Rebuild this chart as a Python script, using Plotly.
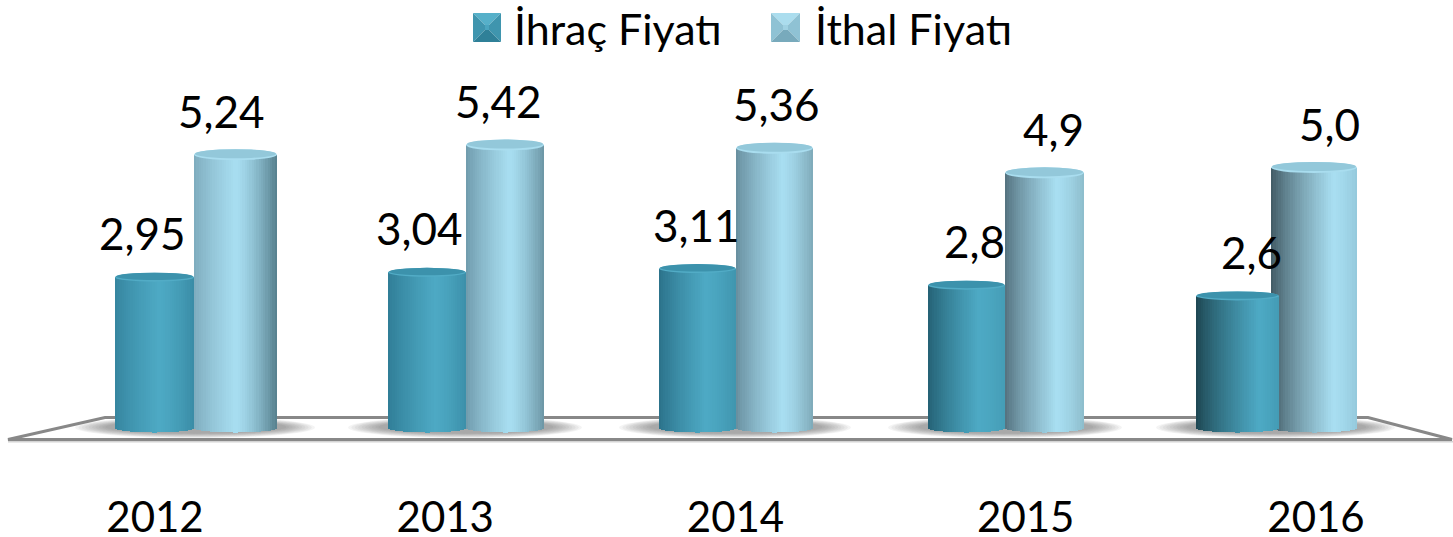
import math
import plotly.graph_objects as go

# ---- data ----
years = [2012, 2013, 2014, 2015, 2016]
year_labels = ["2012", "2013", "2014", "2015", "2016"]
ihrac_name = "İhraç Fiyatı"
ithal_name = "İthal Fiyatı"
ihrac_values = [2.95, 3.04, 3.11, 2.8, 2.6]
ithal_values = [5.24, 5.42, 5.36, 4.9, 5.0]
ihrac_labels = ["2,95", "3,04", "3,11", "2,8", "2,6"]
ithal_labels = ["5,24", "5,42", "5,36", "4,9", "5,0"]

# ---- layout / style ----
W, H = 1453, 537
PLOT_BOTTOM = 489
PX_PER_YEAR = 290.25
YEAR0_PX = 155
PX_PER_UNIT = 53.5
ZERO_PX = 435
FLOOR_PX = 428
FONT = "Lato"
FS = 44
N = 36


def X(px):
    return years[0] + (px - YEAR0_PX) / PX_PER_YEAR


def Y(py):
    return (ZERO_PX - py) / PX_PER_UNIT


def hexrgb(c):
    return tuple(int(c[i:i + 2], 16) for i in (1, 3, 5))


def mix(a, b, t):
    a, b = hexrgb(a), hexrgb(b)
    return "rgb(%d,%d,%d)" % tuple(round(a[i] + (b[i] - a[i]) * t) for i in range(3))


# bar extents on the perspective floor, pixels
ihrac_edges = [(115, 194), (388, 466), (659, 736), (928, 1005), (1196, 1279)]
ithal_edges = [(194, 277), (466, 544), (736, 813), (1005, 1084), (1271, 1357)]
ihrac_shade = [("#35849E", .55, "#3A8CA6"), ("#2F7C95", .6, "#3B8FA9"), ("#2A7088", .6, "#3F95AE"),
               ("#235F72", .65, "#459DB6"), ("#1C444F", .75, "#439BB4")]
ithal_shade = [("#7DAABC", .5, "#567F8D"), ("#6E99AA", .55, "#6B95A4"), ("#668C9C", .6, "#7EA9B8"),
               ("#526F7C", .65, "#8DBCCB"), ("#3F5761", .72, "#94C9DC")]
ihrac_light, ithal_light = "#4DA9C4", "#A8DEF1"
ihrac_cap, ithal_cap = "#3C92AC", "#93C8DA"
ihrac_rim, ithal_rim = "#52ACC6", "#A9DDEF"
ihrac_dx = [-12.5, -8, -1.5, 7.5, 13.5]
ithal_dx = [-14.5, -7, 1.5, 8.5, 15]
BOTTOM_DEPTH = 4.5
LABEL_UP = 44


def shade(stop, light, t):
    left, pos, right = stop
    if t < pos:
        return mix(left, light, (t / pos) ** 0.8)
    return mix(light, right, ((t - pos) / (1 - pos)) ** 1.4)


fig = go.Figure()


def cylinder(values, edges, shades, light):
    for k in range(N):
        t0, t1 = k / N, (k + 1) / N
        tm = (t0 + t1) / 2
        u = 2 * tm - 1
        base = Y(FLOOR_PX + BOTTOM_DEPTH * math.sqrt(max(0, 1 - u * u)))
        offs, wids, cols = [], [], []
        for i, (a, b) in enumerate(edges):
            centre = YEAR0_PX + i * PX_PER_YEAR
            offs.append((a + (b - a) * t0 - centre) / PX_PER_YEAR)
            wids.append(((b - a) * (t1 - t0) + (0.6 if k < N - 1 else 0)) / PX_PER_YEAR)
            cols.append(shade(shades[i], light, tm))
        fig.add_trace(go.Bar(
            x=years, y=[v - base for v in values], base=base, offset=offs, width=wids,
            marker=dict(color=cols, line=dict(width=0)), showlegend=False, hoverinfo="skip"))


cylinder(ithal_values, ithal_edges, ithal_shade, ithal_light)
cylinder(ihrac_values, ihrac_edges, ihrac_shade, ihrac_light)

for nm in (ihrac_name, ithal_name):
    fig.add_trace(go.Bar(x=[None], y=[None], name=nm, marker=dict(color="rgba(0,0,0,0)", line=dict(width=0))))

shapes = []
# floor
floor = "M %f,%f L %f,%f L %f,%f L %f,%f L %f,%f Z" % (
    X(8), Y(439.5), X(105), Y(417.5), X(1368), Y(417.5), X(1452), Y(439.5), X(8), Y(439.5))
shapes.append(dict(type="path", path=floor, xref="x", yref="y", line=dict(color="#888888", width=3),
                   fillcolor="white", layer="below"))
shapes.append(dict(type="line", xref="x", yref="y", x0=X(8), x1=X(1453), y0=Y(441.8), y1=Y(441.8),
                   line=dict(color="#D4D4D4", width=1.5), layer="below"))
# soft shadows under each pair
STEPS = 10
for (a, _), (_, b) in zip(ihrac_edges, ithal_edges):
    for j in range(STEPS):
        g = (1 - j / STEPS)
        shapes.append(dict(type="circle", xref="x", yref="y",
                           x0=X(a - 6 - 34 * g), x1=X(b + 6 + 32 * g),
                           y0=Y(427 + 6 + 5 * g), y1=Y(427 - 6 - 4 * g),
                           fillcolor="rgba(90,90,90,0.065)", line=dict(width=0), layer="below"))


# cylinder tops
def caps(values, edges, cap, rim, semi):
    for v, (a, b) in zip(values, edges):
        dy = semi / PX_PER_UNIT
        shapes.append(dict(type="circle", xref="x", yref="y", x0=X(a), x1=X(b), y0=v - dy, y1=v + dy,
                           fillcolor=rim, line=dict(width=0), layer="above"))
        shapes.append(dict(type="circle", xref="x", yref="y", x0=X(a + 1), x1=X(b - 1), y0=v - dy * 0.65, y1=v + dy,
                           fillcolor=cap, line=dict(width=0), layer="above"))


caps(ithal_values, ithal_edges, ithal_cap, ithal_rim, 5.5)
caps(ihrac_values, ihrac_edges, ihrac_cap, ihrac_rim, 4.5)


# legend swatches: bevelled squares
def swatch(x0, x1, y0, y1, top, left, right, bottom, mid):
    d = 12
    cx0, cx1, cy0, cy1 = x0 + d, x1 - d, y0 + d, y1 - d
    for pts, col in (([(x0, y0), (x1, y0), (cx1, cy0), (cx0, cy0)], top),
                     ([(x0, y0), (cx0, cy0), (cx0, cy1), (x0, y1)], left),
                     ([(x1, y0), (cx1, cy0), (cx1, cy1), (x1, y1)], right),
                     ([(x0, y1), (cx0, cy1), (cx1, cy1), (x1, y1)], bottom),
                     ([(cx0, cy0), (cx1, cy0), (cx1, cy1), (cx0, cy1)], mid)):
        p = "M " + " L ".join("%f,%f" % (X(a), Y(b)) for a, b in pts) + " Z"
        shapes.append(dict(type="path", path=p, xref="x", yref="y", fillcolor=col, line=dict(width=0), layer="above"))


swatch(473, 501, 13, 42, "#56B0C9", "#3F95AE", "#3F95AE", "#2F8098", "#4BA5BF")
swatch(771, 800, 13, 42, "#ABDDEE", "#8FC2D4", "#8FC2D4", "#78AABC", "#A0D2E3")

# value labels
ann = []
for vals, labs, dxs, edges in ((ihrac_values, ihrac_labels, ihrac_dx, ihrac_edges),
                               (ithal_values, ithal_labels, ithal_dx, ithal_edges)):
    for yr, v, lab, dx, (a, b) in zip(years, vals, labs, dxs, edges):
        ann.append(dict(x=X((a + b) / 2), y=v, text=lab, showarrow=False, xref="x", yref="y",
                        xanchor="center", yanchor="middle", xshift=dx, yshift=LABEL_UP,
                        font=dict(family=FONT, size=FS, color="black")))

fig.update_layout(
    width=W, height=H, margin=dict(l=0, r=0, t=0, b=H - PLOT_BOTTOM, pad=0, autoexpand=False),
    paper_bgcolor="white", plot_bgcolor="white", barmode="overlay", bargap=0,
    shapes=shapes, annotations=ann,
    font=dict(family=FONT, size=FS, color="black"),
    xaxis=dict(range=[X(0), X(W)], tickmode="array", tickvals=years, ticktext=year_labels,
               showgrid=False, zeroline=False, showline=False, ticks="", ticklabelstandoff=0,
               tickfont=dict(family=FONT, size=42, color="black"), fixedrange=True),
    yaxis=dict(range=[Y(PLOT_BOTTOM), Y(0)], visible=False, fixedrange=True),
    legend=dict(orientation="h", x=474 / W, xanchor="left", y=1.012, yanchor="top",
                bgcolor="rgba(0,0,0,0)", font=dict(family=FONT, size=43, color="black"),
                itemwidth=30, entrywidth=256, entrywidthmode="pixels", traceorder="normal"),
)
fig.write_html("out.html", post_script="document.body.style.margin='0';", config={"displayModeBar": False})
